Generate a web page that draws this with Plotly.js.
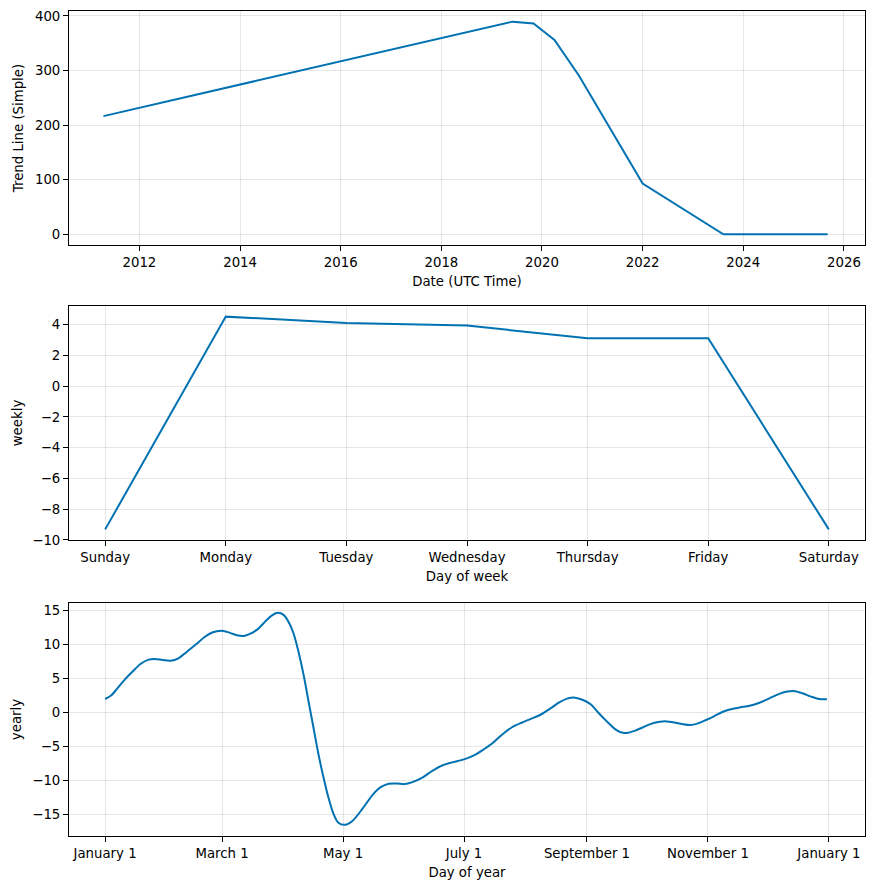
<!DOCTYPE html>
<html>
<head>
<meta charset="utf-8">
<script src="https://cdn.plot.ly/plotly-3.0.1.min.js"></script>
<style>
html, body { margin: 0; padding: 0; background: #fff; }
#chart { width: 873px; height: 889px; }
</style>
</head>
<body>
<div id="chart"></div>
<script>
// ---- Trend ----
const trendDates = ['2011-04-15', '2019-06-01', '2019-11-01', '2020-04-01', '2020-09-25', '2022-01-01', '2023-08-10', '2025-09-05'];
const trendValues = [216.5, 389.5, 386, 356, 291, 93, 0, 0];

// ---- Weekly ----
const weekDays = ['Sunday', 'Monday', 'Tuesday', 'Wednesday', 'Thursday', 'Friday', 'Saturday'];
const weeklyValues = [-9.31, 4.52, 4.11, 3.94, 3.11, 3.11, -9.31];

// ---- Yearly (day of year offset from January 1) ----
const yearDays = [0, 3, 6, 10, 14, 18, 22, 25, 29, 33, 37, 41, 46, 50, 54, 59, 63, 67, 70, 73, 77, 81, 84, 87, 90, 93, 95, 97.5, 100, 102.5, 105, 107.5, 110, 112.5, 115, 117.5, 121, 125, 130, 135, 139, 143, 147, 151, 155, 160, 165, 170, 175, 181, 186, 190, 195, 200, 205, 210, 215, 220, 225, 229, 233, 237, 241, 245, 249, 253, 257, 260, 263, 267, 271, 275, 279, 283, 287, 291, 295, 299, 303, 307, 311, 315, 320, 325, 330, 335, 340, 344, 348, 352, 356, 360, 364];
const yearlyValues = [2.0, 2.5, 3.5, 4.9, 6.1, 7.2, 7.8, 7.9, 7.75, 7.65, 8.0, 8.9, 10.1, 11.1, 11.8, 12.05, 11.75, 11.35, 11.3, 11.6, 12.3, 13.5, 14.3, 14.7, 14.4, 13.1, 11.7, 9.0, 5.7, 1.8, -2.1, -6.0, -9.4, -12.4, -14.8, -16.2, -16.55, -15.9, -14.1, -12.1, -11.0, -10.5, -10.45, -10.55, -10.25, -9.6, -8.6, -7.8, -7.35, -6.9, -6.3, -5.6, -4.6, -3.3, -2.2, -1.5, -0.9, -0.25, 0.7, 1.5, 2.05, 2.2, 1.85, 1.2, -0.1, -1.3, -2.4, -2.9, -3.0, -2.7, -2.2, -1.7, -1.4, -1.3, -1.45, -1.7, -1.85, -1.6, -1.1, -0.55, 0.05, 0.45, 0.75, 1.0, 1.45, 2.1, 2.75, 3.1, 3.15, 2.8, 2.35, 2.0, 1.95];
const yearTickDays = [0, 59, 120, 181, 243, 304, 365];
const yearTickLabels = ['January 1', 'March 1', 'May 1', 'July 1', 'September 1', 'November 1', 'January 1'];

const LINE = { color: '#0072B2', width: 2 };
const FONT = { family: 'DejaVu Sans, sans-serif', size: 13.3, color: '#000' };

function axis(extra) {
  return Object.assign({
    showline: true, mirror: true, linecolor: '#000', linewidth: 1,
    ticks: 'outside', ticklen: 5, tickwidth: 1, tickcolor: '#000',
    showgrid: true, gridcolor: 'rgba(128,128,128,0.2)', gridwidth: 1,
    zeroline: false, tickfont: FONT, automargin: false
  }, extra);
}

const traces = [
  { x: trendDates, y: trendValues, type: 'scatter', mode: 'lines', line: LINE, xaxis: 'x', yaxis: 'y', hoverinfo: 'skip' },
  { x: weekDays, y: weeklyValues, type: 'scatter', mode: 'lines', line: LINE, xaxis: 'x2', yaxis: 'y2', hoverinfo: 'skip' },
  { x: yearDays, y: yearlyValues, type: 'scatter', mode: 'lines', line: Object.assign({ shape: 'spline', smoothing: 0.8 }, LINE), xaxis: 'x3', yaxis: 'y3', hoverinfo: 'skip' }
];

const layout = {
  width: 873, height: 889,
  margin: { l: 69, r: 8, t: 11, b: 53 },
  paper_bgcolor: '#fff', plot_bgcolor: '#fff',
  showlegend: false,
  font: FONT,
  xaxis: axis({
    domain: [0, 1], anchor: 'y', type: 'date',
    range: ['2010-08-08', '2026-06-03'],
    tick0: '2012-01-01', dtick: 'M24', tickformat: '%Y',
    title: { text: 'Date (UTC Time)', font: FONT, standoff: 7 }
  }),
  yaxis: axis({
    domain: [0.7164, 1], anchor: 'x',
    range: [-19.5, 409], tickvals: [0, 100, 200, 300, 400],
    title: { text: 'Trend Line (Simple)', font: FONT, standoff: 8 }
  }),
  xaxis2: axis({
    domain: [0, 1], anchor: 'y2', type: 'category',
    range: [-0.3, 6.3],
    title: { text: 'Day of week', font: FONT, standoff: 7 }
  }),
  yaxis2: axis({
    domain: [0.3588, 0.6424], anchor: 'x2',
    range: [-10.0, 5.21], tickvals: [-10, -8, -6, -4, -2, 0, 2, 4],
    title: { text: 'weekly', font: FONT, standoff: 6 }
  }),
  xaxis3: axis({
    domain: [0, 1], anchor: 'y3',
    range: [-18.2, 383.2], tickvals: yearTickDays, ticktext: yearTickLabels,
    title: { text: 'Day of year', font: FONT, standoff: 7 }
  }),
  yaxis3: axis({
    domain: [0, 0.2824], anchor: 'x3',
    range: [-18.2, 16.15], tickvals: [-15, -10, -5, 0, 5, 10, 15],
    title: { text: 'yearly', font: FONT, standoff: 7 }
  })
};

Plotly.newPlot('chart', traces, layout, { staticPlot: true, displayModeBar: false });
</script>
</body>
</html>
